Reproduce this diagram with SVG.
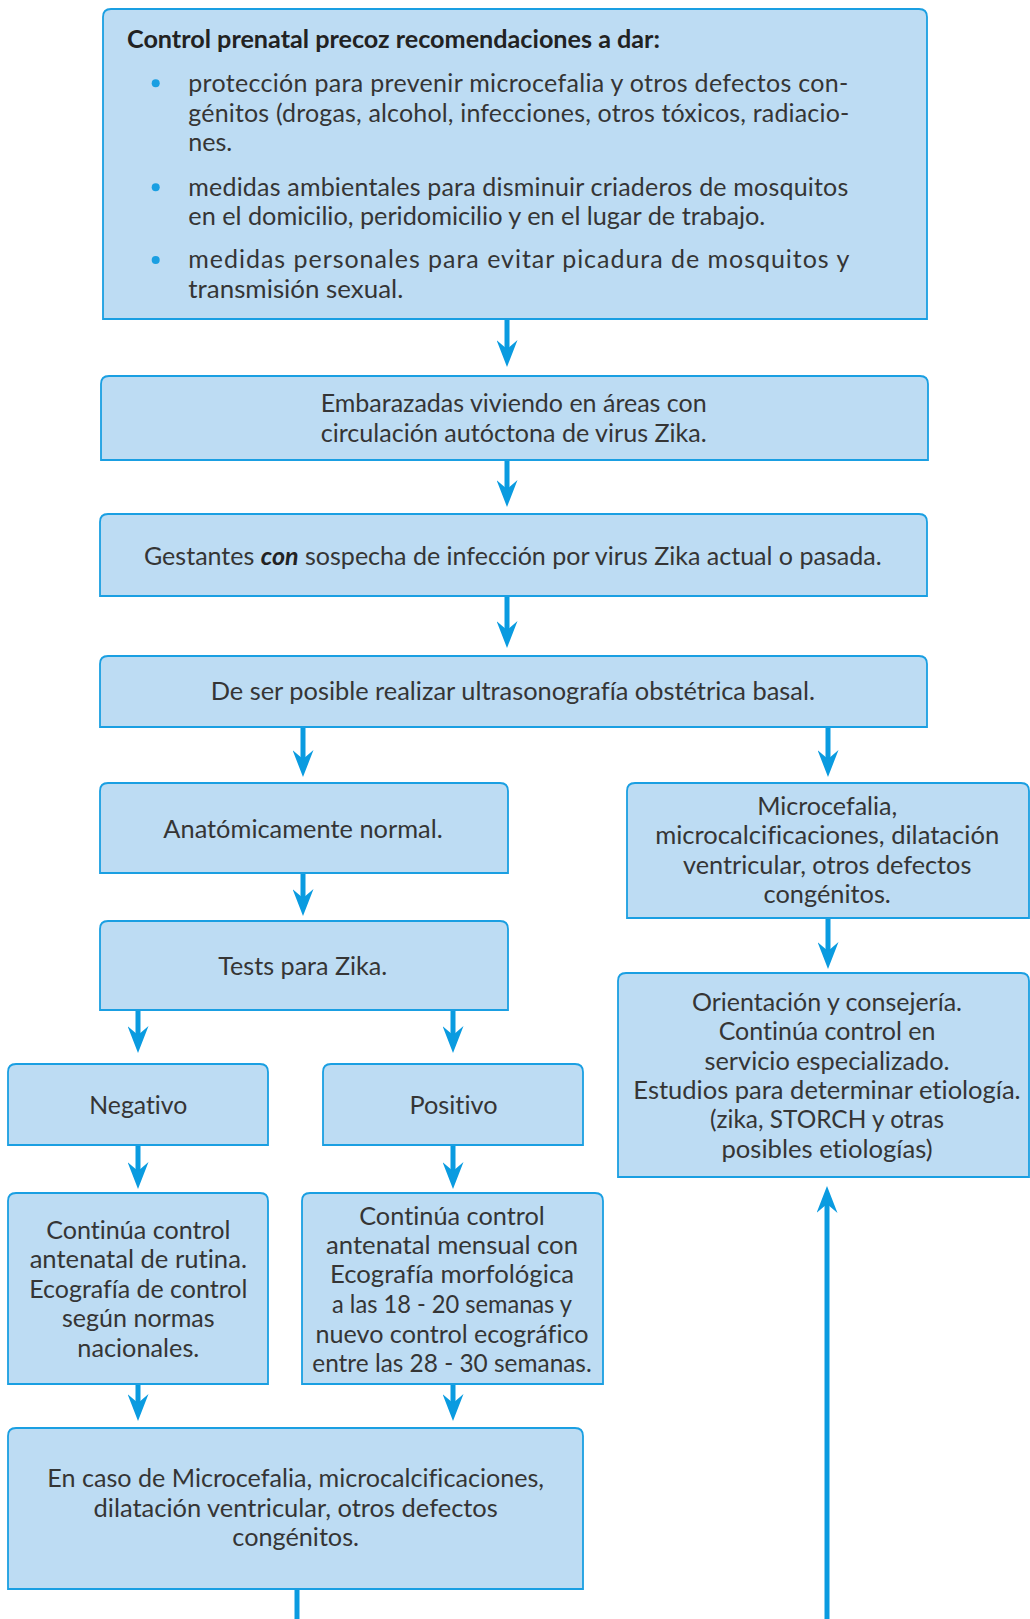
<svg xmlns="http://www.w3.org/2000/svg" width="1030" height="1619" viewBox="0 0 1030 1619">
<style>
.box{fill:#bddcf3;stroke:#1a9fe2;stroke-width:1.8}
.t{font-family:Lato,"Open Sans","Liberation Sans",sans-serif;font-size:25px;fill:#353535;font-variant-ligatures:none;font-feature-settings:"liga" 0,"clig" 0,"dlig" 0}
.c{text-anchor:middle}
.h{font-weight:bold;fill:#222}
.conn{stroke:#0a9be0;stroke-width:5;fill:none}
.bul{fill:#1a9fe2}
</style>
<defs>
<marker id="ah" viewBox="0 0 27 21" refX="13" refY="10.5" markerWidth="27" markerHeight="21" markerUnits="userSpaceOnUse" orient="auto">
<path d="M0,0 L27,10.5 L0,21 L9,10.5 Z" fill="#0a9be0"/>
</marker>
</defs>
<rect width="1030" height="1619" fill="#fff"/>
<g id="connectors">
<line class="conn" x1="507" y1="319" x2="507" y2="353" marker-end="url(#ah)"/>
<line class="conn" x1="507" y1="460" x2="507" y2="493" marker-end="url(#ah)"/>
<line class="conn" x1="507" y1="596" x2="507" y2="634" marker-end="url(#ah)"/>
<line class="conn" x1="303" y1="727" x2="303" y2="763" marker-end="url(#ah)"/>
<line class="conn" x1="828" y1="727" x2="828" y2="763" marker-end="url(#ah)"/>
<line class="conn" x1="303" y1="873" x2="303" y2="902" marker-end="url(#ah)"/>
<line class="conn" x1="138" y1="1010" x2="138" y2="1039" marker-end="url(#ah)"/>
<line class="conn" x1="453" y1="1010" x2="453" y2="1039" marker-end="url(#ah)"/>
<line class="conn" x1="138" y1="1145" x2="138" y2="1175" marker-end="url(#ah)"/>
<line class="conn" x1="453" y1="1145" x2="453" y2="1175" marker-end="url(#ah)"/>
<line class="conn" x1="138" y1="1384" x2="138" y2="1407" marker-end="url(#ah)"/>
<line class="conn" x1="453" y1="1384" x2="453" y2="1407" marker-end="url(#ah)"/>
<line class="conn" x1="828" y1="918" x2="828" y2="955" marker-end="url(#ah)"/>
<line class="conn" x1="297" y1="1589" x2="297" y2="1619"/>
<line class="conn" x1="827" y1="1619" x2="827" y2="1200" marker-end="url(#ah)"/>
</g>
<g id="n1">
<path class="box" d="M103 319 V17 Q103 9 111 9 H919 Q927 9 927 17 V319 Z"/>
<text class="t h" x="127" y="47.7" textLength="533" lengthAdjust="spacingAndGlyphs">Control prenatal precoz recomendaciones a dar:</text>
<circle class="bul" cx="155.7" cy="83.3" r="4"/>
<circle class="bul" cx="155.7" cy="187.3" r="4"/>
<circle class="bul" cx="155.7" cy="260" r="4"/>
<text class="t" x="188.3" y="92.3" textLength="660" lengthAdjust="spacing">protección para prevenir microcefalia y otros defectos con-</text>
<text class="t" x="188.3" y="121.7" textLength="661" lengthAdjust="spacing">génitos (drogas, alcohol, infecciones, otros tóxicos, radiacio-</text>
<text class="t" x="188.3" y="150.7" textLength="44" lengthAdjust="spacingAndGlyphs">nes.</text>
<text class="t" x="188.3" y="195.7" textLength="660" lengthAdjust="spacing">medidas ambientales para disminuir criaderos de mosquitos</text>
<text class="t" x="188.3" y="225" textLength="577" lengthAdjust="spacingAndGlyphs">en el domicilio, peridomicilio y en el lugar de trabajo.</text>
<text class="t" x="188.3" y="268.3" textLength="661" lengthAdjust="spacing">medidas personales para evitar picadura de mosquitos y</text>
<text class="t" x="188.3" y="298.3" textLength="215" lengthAdjust="spacingAndGlyphs">transmisión sexual.</text>
</g>
<g id="n2">
<path class="box" d="M101 460 V384 Q101 376 109 376 H920 Q928 376 928 384 V460 Z"/>
<text class="t c" x="513.7" y="411.7" textLength="386" lengthAdjust="spacingAndGlyphs">Embarazadas viviendo en áreas con</text>
<text class="t c" x="513.7" y="441.7" textLength="386" lengthAdjust="spacingAndGlyphs">circulación autóctona de virus Zika.</text>
</g>
<g id="n3">
<path class="box" d="M100 596 V522 Q100 514 108 514 H919 Q927 514 927 522 V596 Z"/>
<text class="t c" x="512.8" y="565" textLength="737.7" lengthAdjust="spacingAndGlyphs">Gestantes <tspan font-weight="bold" font-style="italic" fill="#222">con</tspan> sospecha de infección por virus Zika actual o pasada.</text>
</g>
<g id="n4">
<path class="box" d="M100 727 V664 Q100 656 108 656 H919 Q927 656 927 664 V727 Z"/>
<text class="t c" x="512.8" y="700" textLength="604.3" lengthAdjust="spacingAndGlyphs">De ser posible realizar ultrasonografía obstétrica basal.</text>
</g>
<g id="n5">
<path class="box" d="M100 873 V791 Q100 783 108 783 H500 Q508 783 508 791 V873 Z"/>
<text class="t c" x="303" y="837.7" textLength="279.3" lengthAdjust="spacingAndGlyphs">Anatómicamente normal.</text>
</g>
<g id="n6">
<path class="box" d="M100 1010 V929 Q100 921 108 921 H500 Q508 921 508 929 V1010 Z"/>
<text class="t c" x="302.8" y="975" textLength="169" lengthAdjust="spacingAndGlyphs">Tests para Zika.</text>
</g>
<g id="n7">
<path class="box" d="M8 1145 V1072 Q8 1064 16 1064 H260 Q268 1064 268 1072 V1145 Z"/>
<text class="t c" x="138.3" y="1114" textLength="98" lengthAdjust="spacingAndGlyphs">Negativo</text>
</g>
<g id="n8">
<path class="box" d="M323 1145 V1072 Q323 1064 331 1064 H575 Q583 1064 583 1072 V1145 Z"/>
<text class="t c" x="453.5" y="1114" textLength="88" lengthAdjust="spacingAndGlyphs">Positivo</text>
</g>
<g id="n9">
<path class="box" d="M8 1384 V1201 Q8 1193 16 1193 H260 Q268 1193 268 1201 V1384 Z"/>
<text class="t c" x="138.3" y="1239.3" textLength="184.3" lengthAdjust="spacingAndGlyphs">Continúa control</text>
<text class="t c" x="138.3" y="1268.3" textLength="217.3" lengthAdjust="spacingAndGlyphs">antenatal de rutina.</text>
<text class="t c" x="138.3" y="1298.3" textLength="218" lengthAdjust="spacingAndGlyphs">Ecografía de control</text>
<text class="t c" x="138.3" y="1327.3" textLength="152.7" lengthAdjust="spacingAndGlyphs">según normas</text>
<text class="t c" x="138.3" y="1356.7" textLength="122" lengthAdjust="spacingAndGlyphs">nacionales.</text>
</g>
<g id="n10">
<path class="box" d="M302 1384 V1201 Q302 1193 310 1193 H595 Q603 1193 603 1201 V1384 Z"/>
<text class="t c" x="452" y="1225" textLength="185.6" lengthAdjust="spacingAndGlyphs">Continúa control</text>
<text class="t c" x="452" y="1254.3" textLength="252" lengthAdjust="spacingAndGlyphs">antenatal mensual con</text>
<text class="t c" x="452" y="1283.3" textLength="244" lengthAdjust="spacingAndGlyphs">Ecografía morfológica</text>
<text class="t c" x="452" y="1313.3" textLength="240" lengthAdjust="spacingAndGlyphs">a las 18 - 20 semanas y</text>
<text class="t c" x="452" y="1342.7" textLength="273" lengthAdjust="spacingAndGlyphs">nuevo control ecográfico</text>
<text class="t c" x="452" y="1371.7" textLength="279.4" lengthAdjust="spacingAndGlyphs">entre las 28 - 30 semanas.</text>
</g>
<g id="n11">
<path class="box" d="M8 1589 V1436 Q8 1428 16 1428 H575 Q583 1428 583 1436 V1589 Z"/>
<text class="t c" x="295.7" y="1487.3" textLength="496.7" lengthAdjust="spacingAndGlyphs">En caso de Microcefalia, microcalcificaciones,</text>
<text class="t c" x="295.7" y="1516.7" textLength="404.3" lengthAdjust="spacingAndGlyphs">dilatación ventricular, otros defectos</text>
<text class="t c" x="295.7" y="1546" textLength="126.7" lengthAdjust="spacingAndGlyphs">congénitos.</text>
</g>
<g id="n12">
<path class="box" d="M627 918 V791 Q627 783 635 783 H1021 Q1029 783 1029 791 V918 Z"/>
<text class="t c" x="827.2" y="815" textLength="140" lengthAdjust="spacingAndGlyphs">Microcefalia,</text>
<text class="t c" x="827.2" y="844.3" textLength="344" lengthAdjust="spacingAndGlyphs">microcalcificaciones, dilatación</text>
<text class="t c" x="827.2" y="874.3" textLength="288.3" lengthAdjust="spacingAndGlyphs">ventricular, otros defectos</text>
<text class="t c" x="827.2" y="903.3" textLength="127.3" lengthAdjust="spacingAndGlyphs">congénitos.</text>
</g>
<g id="n13">
<path class="box" d="M618 1177 V981 Q618 973 626 973 H1021 Q1029 973 1029 981 V1177 Z"/>
<text class="t c" x="827" y="1010.7" textLength="270" lengthAdjust="spacingAndGlyphs">Orientación y consejería.</text>
<text class="t c" x="827" y="1040" textLength="216.7" lengthAdjust="spacingAndGlyphs">Continúa control en</text>
<text class="t c" x="827" y="1069.5" textLength="245" lengthAdjust="spacingAndGlyphs">servicio especializado.</text>
<text class="t c" x="827" y="1098.8" textLength="387.3" lengthAdjust="spacingAndGlyphs">Estudios para determinar etiología.</text>
<text class="t c" x="827" y="1128.2" textLength="234" lengthAdjust="spacingAndGlyphs">(zika, STORCH y otras</text>
<text class="t c" x="827" y="1157.5" textLength="211" lengthAdjust="spacingAndGlyphs">posibles etiologías)</text>
</g>
</svg>
